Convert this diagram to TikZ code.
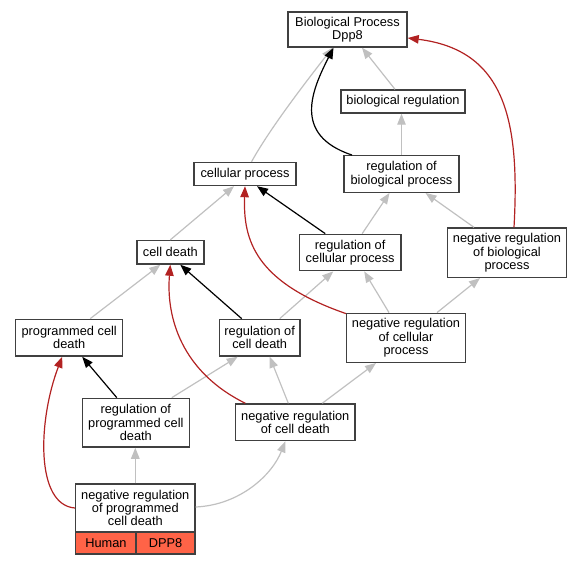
\documentclass[tikz,border=0pt]{standalone}
\usepackage{fontspec}
\setmainfont{Liberation Sans}
\usetikzlibrary{arrows.meta}
\definecolor{edgegray}{HTML}{C0C0C0}
\definecolor{edgered}{HTML}{B22222}
\definecolor{tomatofill}{HTML}{FF6347}
\definecolor{boxline}{HTML}{404040}
\begin{document}
\begin{tikzpicture}[x=1pt,y=-1pt,
  box/.style={draw=boxline, line width=1.4pt, fill=white, inner sep=0pt, align=center,
    font=\fontsize{12.8}{13.4}\selectfont},
  cell/.style={box, fill=tomatofill},
  tip/.style={-{Triangle[length=11pt,width=8.5pt]}},
  ge/.style={draw=edgegray, line width=1.2pt, tip},
  be/.style={draw=black, line width=1.2pt, tip},
  re/.style={draw=edgered, line width=1.2pt, tip}]
\useasboundingbox (0,0) rectangle (581,565);
% nodes
\node[box, minimum width=119pt, minimum height=35pt] (bp) at (347.5,29.5) {Biological Process\\Dpp8};
\node[box, minimum width=124pt, minimum height=23pt] (br) at (403,101.5) {biological regulation};
\node[box, minimum width=115pt, minimum height=36.5pt] (rbp) at (401.5,174) {regulation of\\biological process};
\node[box, minimum width=102pt, minimum height=23pt] (cp) at (245,174) {cellular process};
\node[box, minimum width=67pt, minimum height=23.5pt] (cd) at (170.3,252.3) {cell death};
\node[box, minimum width=101.7pt, minimum height=36.4pt] (rcp) at (350.2,252.5) {regulation of\\cellular process};
\node[box, minimum width=119.4pt, minimum height=49.3pt] (nrbp) at (507,252.7) {negative regulation\\of biological\\process};
\node[box, minimum width=107pt, minimum height=36.7pt] (pcd) at (69.2,337.7) {programmed cell\\death};
\node[box, minimum width=80.7pt, minimum height=36.7pt] (rcd) at (259.7,337.7) {regulation of\\cell death};
\node[box, minimum width=118.6pt, minimum height=49pt] (nrcp) at (406,337.8) {negative regulation\\of cellular\\process};
\node[box, minimum width=107pt, minimum height=48.7pt] (rpcd) at (135.8,422.7) {regulation of\\programmed cell\\death};
\node[box, minimum width=119.7pt, minimum height=36.7pt] (nrcd) at (295.3,422.3) {negative regulation\\of cell death};
\node[box, minimum width=119.3pt, minimum height=48pt] (bot) at (135.3,508) {negative regulation\\of programmed\\cell death};
\node[cell, minimum width=60.3pt, minimum height=22pt] (human) at (105.9,543) {Human};
\node[cell, minimum width=59pt, minimum height=22pt] (dpp) at (165.5,543) {DPP8};
% gray edges
\draw[ge] ([xshift=6.5pt]cp.north) .. controls (268,132) and (298,92) .. ([xshift=-15pt]bp.south);
\draw[ge] ([xshift=-8pt]br.north) -- ([xshift=14.5pt]bp.south);
\draw[ge] (rbp.north) -- (rbp.north |- br.south);
\draw[ge] ([xshift=12pt]rcp.north) -- ([xshift=-12pt]rbp.south);
\draw[ge] ([xshift=-33pt]nrbp.north) -- ([xshift=24pt]rbp.south);
\draw[ge] (cd.north) -- ([xshift=-11pt]cp.south);
\draw[ge] ([xshift=21pt]pcd.north) -- ([xshift=-10pt]cd.south);
\draw[ge] ([xshift=20pt]rcd.north) -- ([xshift=-17pt]rcp.south);
\draw[ge] ([xshift=-17pt]nrcp.north) -- ([xshift=14pt]rcp.south);
\draw[ge] ([xshift=31pt]nrcp.north) -- ([xshift=-27pt]nrbp.south);
\draw[ge] ([xshift=36pt]rpcd.north) -- ([xshift=-22pt]rcd.south);
\draw[ge] ([xshift=-7pt]nrcd.north) -- ([xshift=10pt]rcd.south);
\draw[ge] ([xshift=27pt]nrcd.north) -- ([xshift=-30pt]nrcp.south);
\draw[ge] (bot.north) -- (bot.north |- rpcd.south);
\draw[ge] ([yshift=1pt]bot.east) .. controls (240,505) and (272,475) .. ([xshift=-10pt]nrcd.south);
% black edges
\draw[be] ([xshift=-49.5pt]rbp.north) .. controls (292,135) and (312,90) .. ([xshift=-14pt]bp.south);
\draw[be] ([xshift=-25pt]rcp.north) -- ([xshift=12pt]cp.south);
\draw[be] ([xshift=-18pt]rcd.north) -- ([xshift=10pt]cd.south);
\draw[be] ([xshift=-19pt]rpcd.north) -- ([xshift=13pt]pcd.south);
% red edges
\draw[re] ([xshift=7pt]nrbp.north) .. controls (520,120) and (505,50) .. ([yshift=-8.5pt]bp.east);
\draw[re] ([yshift=-1pt]nrcp.north west) .. controls (255,282) and (243,240) .. (cp.south);
\draw[re] ([xshift=-50pt]nrcd.north) .. controls (182,372) and (166,318) .. (cd.south);
\draw[re] (bot.west) .. controls (35,505) and (38,420) .. ([xshift=-7pt]pcd.south);
\end{tikzpicture}
\end{document}
